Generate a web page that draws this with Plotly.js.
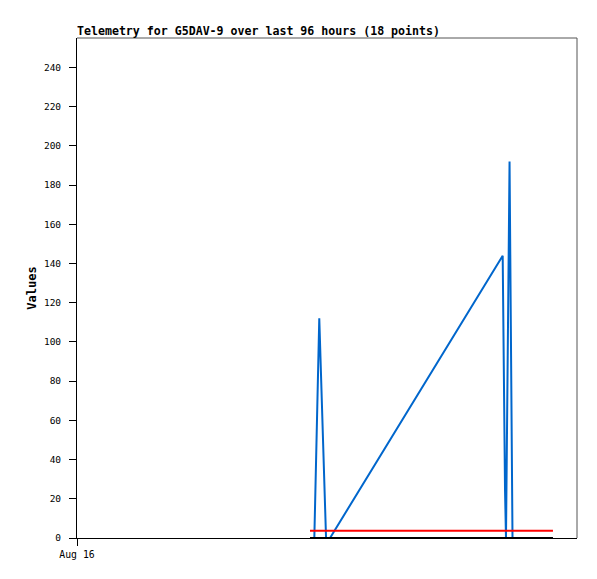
<!DOCTYPE html>
<html>
<head>
<meta charset="utf-8">
<script src="https://cdn.plot.ly/plotly-3.0.1.min.js"></script>
<style>html,body{margin:0;padding:0;background:#fff;}#chart{width:597px;height:579px;}</style>
</head>
<body>
<div id="chart"></div>
<script>
// Data
const times = [
  '2024-08-17 20:44', '2024-08-17 21:07', '2024-08-17 21:34', '2024-08-17 22:31',
  '2024-08-17 23:49', '2024-08-18 00:35', '2024-08-19 09:44', '2024-08-19 10:11',
  '2024-08-19 10:22', '2024-08-19 11:03', '2024-08-19 11:37', '2024-08-19 12:06',
  '2024-08-19 13:04', '2024-08-19 14:35', '2024-08-19 16:08', '2024-08-19 17:40',
  '2024-08-19 18:26', '2024-08-19 19:23'
];
const blueValues  = [0, 0, 0, 112, 0, 0, 144, 24, 0, 192, 0, 0, 0, 0, 0, 0, 0, 0];
const redValues   = [3.7, 3.7, 3.7, 3.7, 3.7, 3.7, 3.7, 3.7, 3.7, 3.7, 3.7, 3.7, 3.7, 3.7, 3.7, 3.7, 3.7, 3.7];
const blackValues = [0, 0, 0, 0, 0, 0, 0, 0, 0, 0, 0, 0, 0, 0, 0, 0, 0, 0];
const xRange = ['2024-08-16 00:00', '2024-08-20 00:00'];
const xTickVals = ['2024-08-16 00:00'];
const xTickText = ['Aug 16'];
const yTickVals = [0, 20, 40, 60, 80, 100, 120, 140, 160, 180, 200, 220, 240];

const mono = '"DejaVu Sans Mono", "Liberation Mono", monospace';

const traces = [
  {x: times, y: blueValues, type: 'scatter', mode: 'lines', line: {color: '#0066cc', width: 2}, hoverinfo: 'skip'},
  {x: times, y: redValues, type: 'scatter', mode: 'lines', line: {color: '#ff0000', width: 2}, hoverinfo: 'skip'},
  {x: times, y: blackValues, type: 'scatter', mode: 'lines', line: {color: '#000000', width: 2}, hoverinfo: 'skip'}
];

const layout = {
  width: 597, height: 579,
  margin: {l: 77, r: 20, t: 38, b: 41, pad: 0},
  paper_bgcolor: '#ffffff', plot_bgcolor: '#ffffff',
  showlegend: false,
  title: {
    text: '<b>Telemetry for G5DAV-9 over last 96 hours (18 points)</b>',
    font: {family: mono, size: 11.6, color: '#000'},
    xref: 'paper', x: 0, xanchor: 'left',
    yref: 'container', y: 1 - 31/579, yanchor: 'middle'
  },
  xaxis: {
    type: 'date', range: xRange,
    tickmode: 'array', tickvals: xTickVals, ticktext: xTickText,
    ticks: 'outside', ticklen: 7, tickwidth: 1, tickcolor: '#000',
    tickfont: {family: mono, size: 9.8, color: '#000'},
    showgrid: false, zeroline: false,
    showline: true, linecolor: '#000', linewidth: 1
  },
  yaxis: {
    range: [0, 255],
    tickmode: 'array', tickvals: yTickVals,
    ticks: 'outside', ticklen: 7, tickwidth: 1, tickcolor: '#000',
    ticklabelstandoff: 6,
    tickfont: {family: mono, size: 9.5, color: '#000'},
    showgrid: false, zeroline: false,
    showline: true, linecolor: '#000', linewidth: 1,
    title: {text: '<b>Values</b>', font: {family: mono, size: 12, color: '#000'}, standoff: 4}
  },
  shapes: [
    {type: 'line', xref: 'paper', yref: 'paper', x0: 0, x1: 1, y0: 1, y1: 1, line: {color: '#555', width: 1}},
    {type: 'line', xref: 'paper', yref: 'paper', x0: 1, x1: 1, y0: 0, y1: 1, line: {color: '#555', width: 1}}
  ]
};

Plotly.newPlot('chart', traces, layout, {displayModeBar: false, staticPlot: true});
</script>
</body>
</html>
